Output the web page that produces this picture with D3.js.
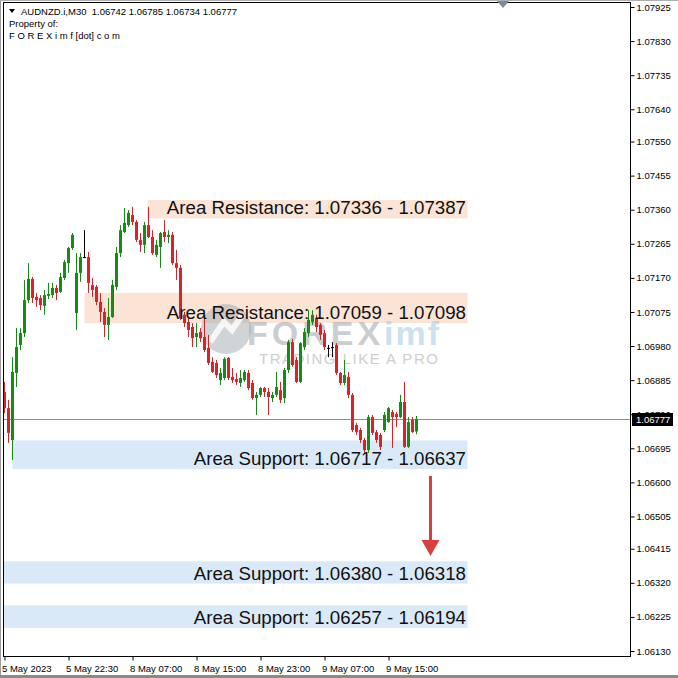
<!DOCTYPE html>
<html><head><meta charset="utf-8">
<script src="https://cdn.jsdelivr.net/npm/d3@7"></script>
<style>
html,body{margin:0;padding:0;background:#fff;}
svg{display:block;}
text{font-family:"Liberation Sans",Arial,sans-serif;}
</style></head>
<body>
<svg id="c" width="678" height="678"></svg>
<script>
// ---------- data ----------
const symbol = "AUDNZD.i,M30";
const openP = [1.06852,1.06807,1.06718,1.06905,1.06983,1.07016,1.07108,1.07167,1.07117,1.07114,
1.07092,1.07120,1.07122,1.07142,1.07131,1.07170,1.07211,1.07253,1.07072,1.07184,
1.07228,1.07228,1.07150,1.07145,1.07103,1.07075,1.07039,1.07061,1.07145,1.07239,
1.07298,1.07317,1.07345,1.07326,1.07276,1.07262,1.07317,1.07284,1.07234,1.07256,
1.07298,1.07284,1.07290,1.07211,1.07198,1.07067,1.07047,1.07033,1.07005,1.07019,
1.07005,1.06975,1.06936,1.06933,1.06885,1.06891,1.06947,1.06894,1.06888,1.06877,
1.06885,1.06905,1.06877,1.06835,1.06844,1.06863,1.06852,1.06835,1.06844,1.06857,
1.06835,1.06913,1.06991,1.06941,1.06880,1.06977,1.07016,1.07047,1.07058,1.07039,
1.07016,1.06975,1.06977,1.06983,1.06905,1.06877,1.06894,1.06844,1.06760,1.06746,
1.06718,1.06690,1.06782,1.06740,1.06732,1.06746,1.06768,1.06796,1.06791,1.06782,
1.06824,1.06699,1.06774,1.06742];
const highP = [1.06880,1.06830,1.06949,1.07030,1.07030,1.07164,1.07211,1.07172,1.07128,1.07122,
1.07136,1.07156,1.07156,1.07150,1.07184,1.07220,1.07256,1.07295,1.07239,1.07239,
1.07303,1.07242,1.07170,1.07150,1.07128,1.07086,1.07114,1.07164,1.07256,1.07317,
1.07365,1.07359,1.07368,1.07331,1.07295,1.07326,1.07368,1.07303,1.07276,1.07298,
1.07331,1.07303,1.07298,1.07248,1.07206,1.07075,1.07061,1.07044,1.07044,1.07030,
1.07061,1.07011,1.06949,1.06941,1.06919,1.06949,1.06949,1.06919,1.06905,1.06913,
1.06913,1.06913,1.06885,1.06852,1.06866,1.06866,1.06863,1.06852,1.06908,1.06880,
1.06919,1.06997,1.07000,1.06949,1.06991,1.07030,1.07080,1.07080,1.07067,1.07044,
1.07025,1.06983,1.06991,1.06988,1.06908,1.06941,1.06908,1.06849,1.06766,1.06752,
1.06724,1.06788,1.06788,1.06746,1.06738,1.06796,1.06810,1.06802,1.06796,1.06844,
1.06880,1.06782,1.06782,1.06785];
const lowP = [1.06793,1.06710,1.06662,1.06866,1.06969,1.07005,1.07100,1.07100,1.07089,1.07080,
1.07067,1.07111,1.07114,1.07108,1.07128,1.07164,1.07184,1.07248,1.07025,1.07159,
1.07225,1.07128,1.07117,1.07094,1.07047,1.07005,1.06997,1.07058,1.07136,1.07228,
1.07295,1.07312,1.07317,1.07270,1.07242,1.07239,1.07281,1.07234,1.07228,1.07198,
1.07270,1.07267,1.07206,1.07164,1.07053,1.07033,1.07005,1.06977,1.06977,1.06991,
1.06963,1.06927,1.06905,1.06891,1.06871,1.06885,1.06885,1.06877,1.06871,1.06866,
1.06880,1.06857,1.06830,1.06788,1.06838,1.06838,1.06788,1.06824,1.06838,1.06821,
1.06821,1.06905,1.06922,1.06877,1.06877,1.06969,1.07005,1.07039,1.07019,1.06997,
1.06969,1.06949,1.06949,1.06899,1.06871,1.06871,1.06835,1.06740,1.06732,1.06710,
1.06682,1.06682,1.06732,1.06710,1.06690,1.06740,1.06766,1.06696,1.06754,1.06779,
1.06696,1.06696,1.06738,1.06734];
const closeP = [1.06807,1.06738,1.06908,1.06977,1.07016,1.07108,1.07167,1.07114,1.07108,1.07094,
1.07122,1.07125,1.07142,1.07128,1.07172,1.07214,1.07253,1.07290,1.07184,1.07228,
1.07228,1.07156,1.07136,1.07103,1.07075,1.07039,1.07061,1.07150,1.07239,1.07303,
1.07323,1.07351,1.07326,1.07276,1.07262,1.07317,1.07284,1.07239,1.07262,1.07295,
1.07284,1.07290,1.07211,1.07198,1.07058,1.07044,1.07025,1.07002,1.07016,1.07002,
1.06969,1.06933,1.06908,1.06899,1.06905,1.06944,1.06891,1.06885,1.06880,1.06891,
1.06908,1.06863,1.06835,1.06844,1.06863,1.06852,1.06838,1.06844,1.06866,1.06830,
1.06913,1.06991,1.06927,1.06880,1.06988,1.07019,1.07053,1.07067,1.07033,1.07011,
1.06977,1.06975,1.06977,1.06905,1.06877,1.06899,1.06844,1.06746,1.06740,1.06718,
1.06690,1.06782,1.06738,1.06718,1.06699,1.06788,1.06807,1.06782,1.06782,1.06824,
1.06699,1.06768,1.06740,1.06777];

const priceTicks = ["1.07925","1.07830","1.07735","1.07640","1.07550","1.07455","1.07360","1.07265","1.07170","1.07075",
"1.06980","1.06885","1.06790","1.06695","1.06600","1.06505","1.06415","1.06320","1.06225","1.06130"];
const timeTickBars = [0,16,32,48,64,80,96];
const timeTickLabels = ["5 May 2023","5 May 22:30","8 May 07:00","8 May 15:00","8 May 23:00","9 May 07:00","9 May 15:00"];

const zoneNames = ["Area Resistance","Area Resistance","Area Support","Area Support","Area Support"];
const zoneLabelA = ["1.07336","1.07059","1.06717","1.06380","1.06257"];
const zoneLabelB = ["1.07387","1.07098","1.06637","1.06318","1.06194"];
const zoneTop = [1.07387,1.07128,1.06717,1.06380,1.06257];
const zoneBottom = [1.07336,1.07044,1.06637,1.06318,1.06194];
const zoneStartBar = [35.75,20,2,-0.25,-0.25];
const zoneEndBar = 115.75;
const zoneKind = ["res","res","sup","sup","sup"];

const arrowBar = 106.5, arrowFrom = 1.06618, arrowTo = 1.06395;
const headerLines = ["Property of:","F O R E X i m f [dot] c o m"];

// ---------- layout ----------
const svg = d3.select("#c");
const plotL = 3, plotR = 630, plotT = 2, plotB = 656;
const n = openP.length;
const x = d3.scaleLinear().domain([0, n-1]).range([4.5, 4.5 + 4*(n-1)]);
const y = d3.scaleLinear().domain([1.06130, 1.07925]).range([651, 7]);

const colors = {bull:"#178a17", bear:"#d9232a", doji:"#000", res:"#fbe3d6", sup:"#d9e9f8", arrow:"#d8403f"};

svg.append("rect").attr("width",678).attr("height",678).attr("fill","#fff");

// zones
const zones = d3.range(zoneNames.length);
svg.append("g").selectAll("rect").data(zones).join("rect")
  .attr("x", i => x(zoneStartBar[i]))
  .attr("width", i => x(zoneEndBar) - x(zoneStartBar[i]))
  .attr("y", i => y(zoneTop[i]))
  .attr("height", i => y(zoneBottom[i]) - y(zoneTop[i]))
  .attr("fill", i => colors[zoneKind[i]]);

// watermark
const wm = svg.append("g");
wm.append("circle").attr("cx",226).attr("cy",329).attr("r",25).attr("fill","#a4a9b0").attr("opacity",0.5);
wm.append("path").attr("d","M210,342 L224,322 L232,330 L243,314").attr("stroke","#fff").attr("stroke-width",6)
  .attr("fill","none").attr("opacity",0.8);
wm.append("text").attr("x",247).attr("y",345).attr("font-size",34).attr("font-weight","bold")
  .attr("letter-spacing",4).attr("fill","#8d939a").attr("opacity",0.45).text("FOREX");
wm.append("text").attr("x",384).attr("y",345).attr("font-size",34).attr("font-weight","bold")
  .attr("letter-spacing",2).attr("fill","#8fbde0").attr("opacity",0.45).text("imf");
wm.append("text").attr("x",259).attr("y",364).attr("font-size",15)
  .attr("letter-spacing",1.5).attr("fill","#c4c4c4").attr("opacity",0.8).text("TRADING LIKE A PRO");

// current price line
const last = closeP[n-1];
svg.append("line").attr("x1",plotL).attr("x2",plotR).attr("y1",Math.round(y(last))+0.5).attr("y2",Math.round(y(last))+0.5)
  .attr("stroke","#8a8f94").attr("stroke-width",1);

// candles
const bars = d3.range(n);
const col = i => closeP[i] > openP[i] ? colors.bull : (closeP[i] < openP[i] ? colors.bear : colors.doji);
const cg = svg.append("g");
cg.selectAll("line").data(bars).join("line")
  .attr("x1", i => x(i)).attr("x2", i => x(i))
  .attr("y1", i => y(highP[i])).attr("y2", i => y(lowP[i]))
  .attr("stroke", col).attr("stroke-width",1);
cg.selectAll("rect").data(bars).join("rect")
  .attr("x", i => x(i) - 1.5).attr("width", 3)
  .attr("y", i => y(Math.max(openP[i], closeP[i])))
  .attr("height", i => Math.max(1, Math.abs(y(openP[i]) - y(closeP[i]))))
  .attr("fill", col);

// zone labels
svg.append("g").selectAll("text").data(zones).join("text")
  .attr("x", 466).attr("y", i => y(zoneBottom[i]) - 4)
  .attr("text-anchor","end").attr("font-size",18.7).attr("fill","#111")
  .text(i => `${zoneNames[i]}: ${zoneLabelA[i]} - ${zoneLabelB[i]}`);

// arrow
const ax = x(arrowBar);
svg.append("line").attr("x1",ax).attr("x2",ax).attr("y1",y(arrowFrom)).attr("y2",y(arrowTo)-14)
  .attr("stroke",colors.arrow).attr("stroke-width",3);
svg.append("path").attr("d",`M${ax-9},${y(arrowTo)-16} L${ax+9},${y(arrowTo)-16} L${ax},${y(arrowTo)} Z`)
  .attr("fill",colors.arrow);

// frame
svg.append("line").attr("x1",0.5).attr("x2",0.5).attr("y1",0).attr("y2",678).attr("stroke","#9a9a9a");
svg.append("line").attr("x1",plotL+0.5).attr("x2",plotL+0.5).attr("y1",plotT).attr("y2",plotB).attr("stroke","#000");
svg.append("line").attr("x1",plotL).attr("x2",plotR).attr("y1",plotT+0.5).attr("y2",plotT+0.5).attr("stroke","#000");
svg.append("line").attr("x1",plotL).attr("x2",plotR+1).attr("y1",plotB+0.5).attr("y2",plotB+0.5).attr("stroke","#000");
svg.append("line").attr("x1",plotR+0.5).attr("x2",plotR+0.5).attr("y1",plotT).attr("y2",plotB).attr("stroke","#000");
svg.append("line").attr("x1",0).attr("x2",678).attr("y1",676.5).attr("y2",676.5).attr("stroke","#8a8a8a").attr("stroke-width",3);
svg.append("line").attr("x1",0).attr("x2",678).attr("y1",0.5).attr("y2",0.5).attr("stroke","#b0b0b0");

// top marker
svg.append("path").attr("d","M497,1 L509,1 L503,8 Z").attr("fill","#7d8b98");

// price axis
const yAxis = d3.axisRight(y).tickValues(priceTicks.map(Number)).tickFormat((d,i)=>priceTicks[i]).tickSize(4).tickPadding(2);
const ya = svg.append("g").attr("transform",`translate(${plotR+0.5},0)`).call(yAxis);
ya.select(".domain").remove();
ya.selectAll("text").attr("font-family","Liberation Sans, Arial, sans-serif").attr("font-size",9.5).attr("fill","#000");
ya.selectAll("line").attr("stroke","#000");

// current price box
const yl = Math.round(y(last));
svg.append("rect").attr("x",632).attr("y",yl-6).attr("width",41).attr("height",13).attr("fill","#000");
svg.append("text").attr("x",636).attr("y",yl+4).attr("font-size",9.5).attr("fill","#fff").text(last.toFixed(5));

// time axis
const xAxis = d3.axisBottom(x).tickValues(timeTickBars).tickFormat((d,i)=>timeTickLabels[i]).tickSize(4).tickPadding(5);
const xa = svg.append("g").attr("transform",`translate(0,${plotB+0.5})`).call(xAxis);
xa.select(".domain").remove();
xa.selectAll("text").attr("text-anchor","start").attr("dx",-3).attr("font-family","Liberation Sans, Arial, sans-serif")
  .attr("font-size",9.5).attr("fill","#000");
xa.selectAll("line").attr("stroke","#000");

// header
svg.append("path").attr("d","M9,9 L15,9 L12,13 Z").attr("fill","#000");
svg.append("text").attr("x",21).attr("y",15).attr("font-size",9.5).attr("fill","#000")
  .text(`${symbol}  ${openP[n-1].toFixed(5)} ${highP[n-1].toFixed(5)} ${lowP[n-1].toFixed(5)} ${closeP[n-1].toFixed(5)}`)
  .attr("xml:space","preserve").style("white-space","pre");
svg.append("g").selectAll("text").data(headerLines).join("text")
  .attr("x",9).attr("y",(d,i)=>27+12*i).attr("font-size",9.5).attr("fill","#000").text(d=>d);
</script>
</body></html>
